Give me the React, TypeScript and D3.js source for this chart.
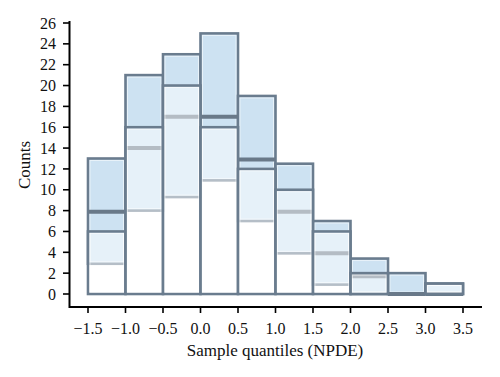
import React from "react";
import * as d3 from "d3";

const binStarts = [-1.5, -1.0, -0.5, 0.0, 0.5, 1.0, 1.5, 2.0, 2.5, 3.0];
const binWidth = 0.5;
const observed = [6, 16, 20, 16, 12, 10, 6, 2, 0, 1];
const piLower = [2.9, 8, 9.3, 10.9, 7, 3.9, 0.9, 0, 0, 0];
const piUpper = [13, 21, 23, 25, 19, 12.5, 7, 3.4, 2, 1];
const piMedian = [7.9, 14, 17, 17, 12.9, 7.9, 3.9, 1.7, 0, 0];
const xTicks = [-1.5, -1.0, -0.5, 0.0, 0.5, 1.0, 1.5, 2.0, 2.5, 3.0, 3.5];
const yTicks = [0, 2, 4, 6, 8, 10, 12, 14, 16, 18, 20, 22, 24, 26];

const W = 500;
const H = 377;
const FONT = "'Liberation Serif', 'Times New Roman', serif";
const EDGE = "#6a7c8e";
const BLUE = "#cde2f2";
const MED = "#697989";

export default function App() {
  const x = d3.scaleLinear().domain([-1.5, 3.5]).range([88, 463]);
  const y = d3.scaleLinear().domain([0, 26]).range([294, 23]);
  const fmt = d3.format(".1f");

  return (
    <svg width={W} height={H} style={{ position: "absolute", left: 0, top: 0, background: "#fff" }}>
      {/* prediction interval rectangles */}
      {binStarts.map((b, i) => (
        <g key={"pi" + i}>
          <rect
            x={x(b)}
            y={y(piUpper[i])}
            width={x(b + binWidth) - x(b)}
            height={y(piLower[i]) - y(piUpper[i])}
            fill={BLUE}
            stroke={EDGE}
            strokeWidth={2.6}
          />
          <rect
            x={x(b) + 2}
            y={y(piUpper[i]) + 2}
            width={Math.max(0, x(b + binWidth) - x(b) - 4)}
            height={Math.max(0, y(piLower[i]) - y(piUpper[i]) - 4)}
            fill="none"
            stroke="#ffffff"
            strokeOpacity={0.55}
            strokeWidth={1}
          />
        </g>
      ))}
      {/* median lines */}
      {binStarts.map((b, i) => (
        <line
          key={"med" + i}
          x1={x(b)}
          x2={x(b + binWidth)}
          y1={y(piMedian[i])}
          y2={y(piMedian[i])}
          stroke={MED}
          strokeWidth={4}
        />
      ))}
      {/* observed histogram */}
      {binStarts.map((b, i) =>
        observed[i] > 0 ? (
          <g key={"obs" + i}>
            <rect
              x={x(b)}
              y={y(observed[i])}
              width={x(b + binWidth) - x(b)}
              height={y(0) - y(observed[i])}
              fill="#ffffff"
              fillOpacity={0.5}
              stroke={EDGE}
              strokeWidth={2.6}
            />
            <rect
              x={x(b) + 2}
              y={y(observed[i]) + 2}
              width={x(b + binWidth) - x(b) - 4}
              height={Math.max(0, y(0) - y(observed[i]) - 4)}
              fill="none"
              stroke="#ffffff"
              strokeOpacity={0.55}
              strokeWidth={1}
            />
          </g>
        ) : null
      )}
      {/* axes */}
      <line x1={69.5} x2={69.5} y1={21} y2={308} stroke="#000" strokeWidth={2} />
      <line x1={69} x2={482} y1={307} y2={307} stroke="#000" strokeWidth={2} />
      {yTicks.map((t) => (
        <g key={"yt" + t}>
          <line x1={63} x2={69} y1={y(t)} y2={y(t)} stroke="#000" strokeWidth={1.6} />
          <text
            x={56}
            y={y(t)}
            dy="0.35em"
            textAnchor="end"
            fontFamily={FONT}
            fontSize={16}
            fill="#111"
          >
            {t}
          </text>
        </g>
      ))}
      {xTicks.map((t) => (
        <g key={"xt" + t}>
          <line x1={x(t)} x2={x(t)} y1={307} y2={313} stroke="#000" strokeWidth={1.6} />
          <text
            x={x(t)}
            y={334}
            textAnchor="middle"
            fontFamily={FONT}
            fontSize={16}
            fill="#111"
          >
            {t < 0 ? "\u2212" + fmt(-t) : fmt(t)}
          </text>
        </g>
      ))}
      <text
        x={275}
        y={356}
        textAnchor="middle"
        fontFamily={FONT}
        fontSize={17}
        fill="#111"
      >
        Sample quantiles (NPDE)
      </text>
      <text
        transform="translate(30,165) rotate(-90)"
        textAnchor="middle"
        fontFamily={FONT}
        fontSize={17}
        fill="#111"
      >
        Counts
      </text>
    </svg>
  );
}
